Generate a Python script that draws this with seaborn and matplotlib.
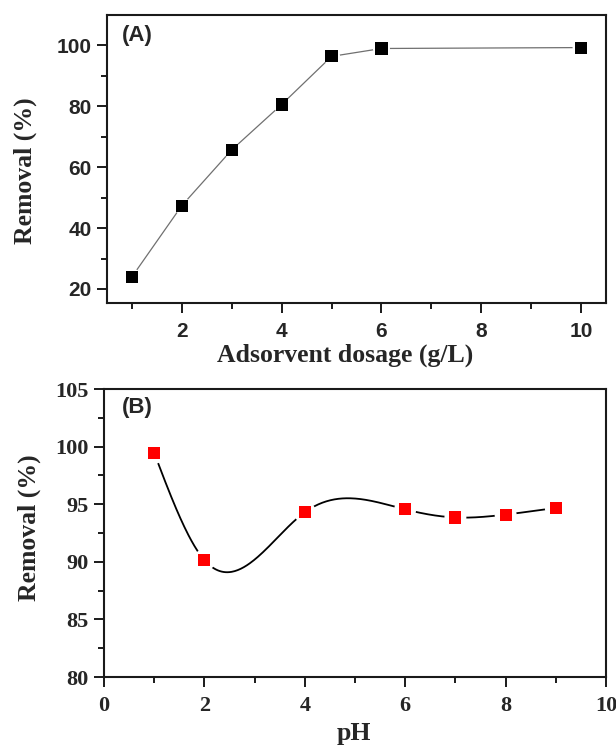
import numpy as np
import pandas as pd
import matplotlib
matplotlib.use("Agg")
import matplotlib.pyplot as plt
import seaborn as sns

# ---- data ----
dosage = [1, 2, 3, 4, 5, 6, 10]
removal_dosage = [24.0, 47.4, 65.7, 80.6, 96.4, 99.0, 99.3]

ph = [1, 2, 4, 6, 7, 8, 9]
removal_ph = [99.45, 90.15, 94.3, 94.55, 93.85, 94.1, 94.68]

xticks_a = [2, 4, 6, 8, 10]
yticks_a = [20, 40, 60, 80, 100]
xticks_b = [0, 2, 4, 6, 8, 10]
yticks_b = [80, 85, 90, 95, 100, 105]

sns.set_style("ticks")
plt.rcParams["font.family"] = ["Liberation Serif", "DejaVu Serif"]


def natural_spline(x, y, n=400):
    x = np.asarray(x, float)
    y = np.asarray(y, float)
    k = len(x)
    h = np.diff(x)
    A = np.zeros((k, k))
    r = np.zeros(k)
    A[0, 0] = 1
    A[-1, -1] = 1
    for i in range(1, k - 1):
        A[i, i - 1] = h[i - 1]
        A[i, i] = 2 * (h[i - 1] + h[i])
        A[i, i + 1] = h[i]
        r[i] = 3 * ((y[i + 1] - y[i]) / h[i] - (y[i] - y[i - 1]) / h[i - 1])
    c = np.linalg.solve(A, r)
    b = np.zeros(k - 1)
    d = np.zeros(k - 1)
    for i in range(k - 1):
        b[i] = (y[i + 1] - y[i]) / h[i] - h[i] * (2 * c[i] + c[i + 1]) / 3
        d[i] = (c[i + 1] - c[i]) / (3 * h[i])
    xs = np.linspace(x[0], x[-1], n)
    idx = np.clip(np.searchsorted(x, xs) - 1, 0, k - 2)
    dx = xs - x[idx]
    ys = y[idx] + b[idx] * dx + c[idx] * dx ** 2 + d[idx] * dx ** 3
    return xs, ys


fig = plt.figure(figsize=(6.16, 7.45), dpi=100)
axA = fig.add_axes([107 / 616, 1 - 303 / 745, 499 / 616, 288 / 745])
axB = fig.add_axes([104 / 616, 1 - 677 / 745, 502 / 616, 288 / 745])

# ---- panel A ----
dfA = pd.DataFrame({"x": dosage, "y": removal_dosage})
sns.lineplot(data=dfA, x="x", y="y", ax=axA, color="#707070", lw=0.9,
             estimator=None, sort=False, zorder=1)
sns.scatterplot(data=dfA, x="x", y="y", ax=axA, marker="o", s=150,
                color="white", edgecolor="none", zorder=2)
sns.scatterplot(data=dfA, x="x", y="y", ax=axA, marker="s", s=76,
                color="black", edgecolor="none", zorder=3)
axA.set_xlim(0.5, 10.5)
axA.set_ylim(15.4, 110)
axA.set_xticks(xticks_a)
axA.set_xticks([1, 3, 5, 7, 9], minor=True)
axA.set_yticks(yticks_a)
axA.set_yticks([30, 50, 70, 90], minor=True)
axA.set_xticklabels([str(v) for v in xticks_a], family="Liberation Sans",
                    weight="bold", fontsize=15)
axA.set_yticklabels([str(v) for v in yticks_a], family="Liberation Sans",
                    weight="bold", fontsize=15)
axA.set_xlabel("Adsorvent dosage (g/L)", fontsize=18.5, weight="bold")
axA.set_ylabel("Removal (%)", fontsize=18.5, weight="bold")
axA.xaxis.set_label_coords(0.478, -0.142)
axA.yaxis.set_label_coords(-0.14, 0.458)
axA.text(0.03, 0.93, "(A)", transform=axA.transAxes, family="Liberation Sans",
         weight="bold", fontsize=16, va="center", ha="left")

# ---- panel B ----
dfB = pd.DataFrame({"x": ph, "y": removal_ph})
xs, ys = natural_spline(ph, removal_ph)
dfS = pd.DataFrame({"x": xs, "y": ys})
sns.lineplot(data=dfS, x="x", y="y", ax=axB, color="black", lw=1.3,
             estimator=None, sort=False, zorder=1)
sns.scatterplot(data=dfB, x="x", y="y", ax=axB, marker="o", s=250,
                color="white", edgecolor="none", zorder=2)
sns.scatterplot(data=dfB, x="x", y="y", ax=axB, marker="s", s=76,
                color="#ff0000", edgecolor="none", zorder=3)
axB.set_xlim(0, 10)
axB.set_ylim(80, 105)
axB.set_xticks(xticks_b)
axB.set_xticks([1, 3, 5, 7, 9], minor=True)
axB.set_yticks(yticks_b)
axB.set_yticks([82.5, 87.5, 92.5, 97.5, 102.5], minor=True)
axB.set_xticklabels([str(v) for v in xticks_b], weight="bold", fontsize=16)
axB.set_yticklabels([str(v) for v in yticks_b], weight="bold", fontsize=16)
axB.set_xlabel("pH", fontsize=18.5, weight="bold")
axB.set_ylabel("Removal (%)", fontsize=18.5, weight="bold")
axB.xaxis.set_label_coords(0.498, -0.156)
axB.yaxis.set_label_coords(-0.125, 0.52)
axB.text(0.035, 0.935, "(B)", transform=axB.transAxes, family="Liberation Sans",
         weight="bold", fontsize=16, va="center", ha="left")

for ax in (axA, axB):
    for sp in ax.spines.values():
        sp.set_visible(True)
        sp.set_linewidth(1.5)
        sp.set_color("#1a1a1a")
    ax.tick_params(which="major", direction="out", length=7, width=1.4,
                   color="#1a1a1a", top=False, right=False, pad=4)
    ax.tick_params(which="minor", direction="out", length=4, width=1.4,
                   color="#1a1a1a", top=False, right=False)
axA.tick_params(axis="x", which="major", pad=6.5)
axB.tick_params(axis="x", which="major", pad=7)

fig.savefig("out.png", dpi=100)
